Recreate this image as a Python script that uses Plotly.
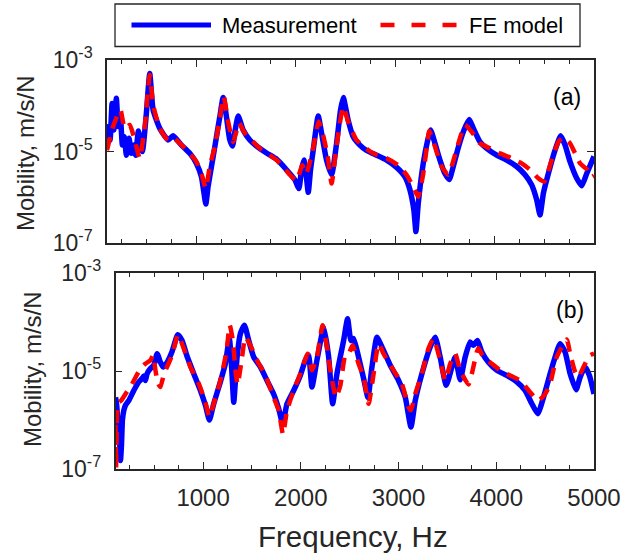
import plotly.graph_objects as go

# ---------------- data ----------------
# Panel (a): measurement
freq_a_meas = [100, 114, 131, 151, 168, 194, 214, 235,
               255, 275, 295, 322, 345, 372, 389, 416,
               456, 496, 530, 564, 631, 715, 765, 849,
               933, 1000, 1050, 1074, 1094, 1117, 1151, 1185,
               1235, 1269, 1302, 1336, 1363, 1390, 1420, 1470,
               1537, 1604, 1705, 1806, 1906, 1990, 2031, 2057,
               2081, 2104, 2125, 2148, 2175, 2225, 2259, 2309,
               2360, 2410, 2450, 2477, 2527, 2577, 2644, 2712,
               2762, 2812, 2913, 3014, 3098, 3148, 3188, 3208,
               3232, 3282, 3323, 3356, 3400, 3450, 3500, 3544,
               3584, 3635, 3692, 3745, 3786, 3853, 3920, 4021,
               4122, 4222, 4306, 4373, 4424, 4457, 4491, 4541,
               4608, 4665, 4709, 4759, 4826, 4877, 4927, 5000]
mob_a_meas = [2.3e-5, 3.5e-5, 1.78e-5, 1.12e-4, 2.95e-5, 1.45e-4, 3.5e-5, 5.3e-5,
              1.38e-5, 2.1e-5, 8.3e-6, 1.95e-5, 9.1e-6, 1.38e-5, 8.3e-6, 2.8e-5,
              1.0e-5, 6.8e-5, 5.1e-4, 8.1e-5, 3.2e-5, 1.78e-5, 2.2e-5, 1.38e-5,
              9.1e-6, 5.5e-6, 2.8e-6, 1.32e-6, 7.1e-7, 1.7e-6, 4.7e-6, 1.28e-5,
              5.75e-5, 1.52e-4, 5.75e-5, 1.78e-5, 1.32e-5, 2.95e-5, 6.0e-5, 2.95e-5,
              1.78e-5, 1.32e-5, 9.3e-6, 6.8e-6, 4.0e-6, 2.4e-6, 1.55e-6, 4.0e-6,
              6.5e-6, 3.1e-6, 1.28e-6, 4.0e-6, 1.07e-5, 6.0e-5, 2.5e-5, 6.5e-6,
              3.1e-6, 1.51e-5, 8.1e-5, 1.52e-4, 4.8e-5, 2.1e-5, 1.38e-5, 1.05e-5,
              9.3e-6, 8.3e-6, 6.5e-6, 4.5e-6, 2.8e-6, 1.45e-6, 5.2e-7, 1.78e-7,
              7.4e-7, 5.5e-6, 1.62e-5, 2.95e-5, 1.51e-5, 6.5e-6, 3.3e-6, 2.45e-6,
              4.7e-6, 1.23e-5, 2.95e-5, 5.0e-5, 3.2e-5, 1.62e-5, 1.17e-5, 8.3e-6,
              6.5e-6, 4.7e-6, 3.1e-6, 1.86e-6, 8.7e-7, 4.1e-7, 1.23e-6, 3.3e-6,
              1.07e-5, 2.2e-5, 1.38e-5, 6.0e-6, 2.6e-6, 1.78e-6, 3.3e-6, 7.8e-6]

# Panel (a): FE model
freq_a_fe = [100, 161, 235, 278, 329, 379, 429, 480,
             530, 564, 631, 715, 765, 849, 933, 1000,
             1050, 1094, 1134, 1185, 1235, 1275, 1319, 1369,
             1430, 1477, 1638, 1806, 1940, 2007, 2065, 2095,
             2120, 2175, 2230, 2270, 2320, 2360, 2410, 2477,
             2527, 2611, 2779, 2913, 3030, 3114, 3181, 3232,
             3282, 3323, 3343, 3400, 3467, 3534, 3601, 3651,
             3702, 3769, 3853, 3954, 4054, 4172, 4272, 4356,
             4440, 4497, 4575, 4642, 4692, 4759, 4810, 4860,
             4927, 4978, 5000]
mob_a_fe = [1.07e-5, 3.5e-5, 8.1e-5, 3.2e-5, 3.8e-5, 1.78e-5, 7.1e-6, 3.5e-5,
            4.7e-4, 1.05e-4, 3.2e-5, 1.78e-5, 2.0e-5, 1.4e-5, 9.0e-6, 6.0e-6,
            3.3e-6, 1.55e-6, 4.7e-6, 1.28e-5, 5.3e-5, 1.58e-4, 4.5e-5, 1.62e-5,
            4.2e-5, 2.7e-5, 1.17e-5, 6.5e-6, 3.1e-6, 2.3e-6, 5.0e-6, 3.2e-6,
            4.0e-6, 1.2e-5, 4.5e-5, 2.5e-5, 8.0e-6, 2.0e-6, 1.38e-5, 9.5e-5,
            4.5e-5, 1.78e-5, 9.1e-6, 7.1e-6, 5.0e-6, 3.1e-6, 1.7e-6, 1.02e-6,
            3.3e-6, 1.51e-5, 2.8e-5, 1.28e-5, 4.7e-6, 3.1e-6, 8.3e-6, 1.95e-5,
            3.8e-5, 2.7e-5, 1.51e-5, 1.17e-5, 9.1e-6, 7.1e-6, 5.5e-6, 4.0e-6,
            2.6e-6, 2.2e-6, 6.5e-6, 1.62e-5, 2.0e-5, 1.51e-5, 9.1e-6, 5.5e-6,
            4.1e-6, 2.8e-6, 3.0e-6]

# Panel (b): measurement
freq_b_meas = [104, 113, 121, 128, 138, 155, 165, 175,
               189, 206, 240, 291, 342, 376, 393, 410,
               427, 461, 496, 530, 564, 591, 632, 683,
               741, 785, 836, 905, 973, 1024, 1065, 1109,
               1177, 1228, 1269, 1296, 1314, 1348, 1382, 1423,
               1467, 1518, 1586, 1654, 1722, 1774, 1815, 1859,
               1927, 1995, 2046, 2080, 2114, 2165, 2217, 2234,
               2285, 2326, 2370, 2438, 2479, 2513, 2540, 2591,
               2643, 2687, 2728, 2779, 2830, 2915, 3000, 3069,
               3127, 3171, 3239, 3324, 3375, 3426, 3488, 3546,
               3580, 3631, 3682, 3733, 3767, 3808, 3852, 3920,
               4006, 4108, 4210, 4295, 4364, 4425, 4483, 4551,
               4602, 4653, 4704, 4756, 4817, 4858, 4909, 4953, 5000]
mob_b_meas = [2.9e-6, 2.3e-6, 1.5e-6, 6.0e-7, 1.0e-6, 1.49e-7, 3.0e-7, 1.0e-6,
              1.57e-6, 2.0e-6, 2.5e-6, 4.0e-6, 6.0e-6, 7.0e-6, 7.9e-6, 6.4e-6,
              8.8e-6, 1.12e-5, 1.31e-5, 2.25e-5, 1.5e-5, 1.2e-5, 1.5e-5, 2.5e-5,
              5.5e-5, 4.2e-5, 2.0e-5, 8.8e-6, 4.0e-6, 2.0e-6, 1.0e-6, 2.15e-6,
              6.0e-6, 1.41e-5, 4.6e-5, 8.8e-6, 2.3e-6, 1.93e-5, 5.8e-5, 8.6e-5,
              4.2e-5, 1.93e-5, 1.21e-5, 6.4e-6, 3.4e-6, 1.7e-6, 8.4e-7, 2.15e-6,
              4.0e-6, 8.1e-6, 1.65e-5, 2.1e-5, 4.7e-6, 1.65e-5, 5.8e-5, 7.9e-5,
              1.93e-5, 2.15e-6, 8.8e-6, 4.2e-5, 1.17e-4, 4.2e-5, 4.6e-5, 1.93e-5,
              7.0e-6, 2.9e-6, 1.21e-5, 4.9e-5, 3.1e-5, 1.31e-5, 6.4e-6, 2.9e-6,
              7.2e-7, 2.5e-6, 8.8e-6, 3.1e-5, 4.9e-5, 1.93e-5, 5.1e-6, 1.21e-5,
              1.93e-5, 6.6e-6, 1.93e-5, 3.9e-5, 3.35e-5, 4.2e-5, 2.45e-5, 1.5e-5,
              1.03e-5, 8.1e-6, 6.0e-6, 4.0e-6, 2.15e-6, 1.34e-6, 2.9e-6, 8.8e-6,
              1.93e-5, 3.6e-5, 2.45e-5, 8.8e-6, 4.15e-6, 7.5e-6, 1.21e-5, 8.1e-6, 3.4e-6]

# Panel (b): FE model
freq_b_fe = [104, 110, 116, 125, 138, 162, 206, 274,
             359, 410, 461, 489, 513, 540, 564, 600,
             632, 683, 744, 802, 870, 956, 1024, 1065,
             1109, 1177, 1239, 1273, 1307, 1331, 1354, 1399,
             1433, 1484, 1552, 1637, 1722, 1774, 1818, 1859,
             1927, 1995, 2070, 2114, 2165, 2223, 2268, 2302,
             2360, 2404, 2455, 2489, 2530, 2591, 2643, 2694,
             2745, 2796, 2847, 2949, 3034, 3103, 3127, 3171,
             3239, 3307, 3358, 3426, 3478, 3529, 3580, 3631,
             3716, 3750, 3801, 3818, 3869, 3955, 4040, 4142,
             4244, 4347, 4432, 4500, 4551, 4619, 4721, 4756,
             4807, 4841, 4892, 4960, 5000]
mob_b_fe = [8.0e-7, 1.05e-7, 6.0e-7, 2.0e-6, 2.3e-6, 2.5e-6, 3.4e-6, 5.5e-6,
            1.12e-5, 1.41e-5, 1.65e-5, 2.1e-5, 1.03e-5, 5.5e-6, 4.7e-6, 8.8e-6,
            1.21e-5, 2.1e-5, 5.5e-5, 2.9e-5, 1.21e-5, 5.5e-6, 2.3e-6, 1.15e-6,
            2.15e-6, 6.4e-6, 2.45e-5, 8.6e-5, 3.9e-5, 1.03e-5, 5.3e-6, 1.93e-5,
            4.9e-5, 3.35e-5, 1.65e-5, 8.1e-6, 2.9e-6, 1.57e-6, 5.1e-7, 1.57e-6,
            4.0e-6, 8.8e-6, 2.25e-5, 1.03e-5, 1.93e-5, 8.6e-5, 3.1e-5, 1.03e-5,
            2.9e-6, 5.0e-6, 2.1e-5, 2.25e-5, 3.35e-5, 1.41e-5, 7.5e-6, 2.15e-6,
            8.8e-6, 3.6e-5, 2.25e-5, 1.03e-5, 5.5e-6, 1.84e-6, 1.57e-6, 3.4e-6,
            8.8e-6, 2.9e-5, 4.6e-5, 1.65e-5, 6.4e-6, 1.41e-5, 2.25e-5, 1.03e-5,
            5.3e-6, 8.8e-6, 2.45e-5, 2.9e-5, 1.93e-5, 1.41e-5, 1.03e-5, 8.1e-6,
            6.4e-6, 3.7e-6, 2.5e-6, 3.4e-6, 5.5e-6, 1.93e-5, 4.4e-5, 2.25e-5,
            9.5e-6, 7.5e-6, 1.21e-5, 2.1e-5, 2.25e-5]

y_tickvals = [1e-7, 1e-5, 1e-3]
y_ticktext = ["10<sup>-7</sup>", "10<sup>-5</sup>", "10<sup>-3</sup>"]
series_names = ["Measurement", "FE model"]
panel_labels = ["(a)", "(b)"]

# ---------------- styling ----------------
W, H = 623, 556
BLUE = "rgb(0,0,255)"
RED = "rgb(255,0,0)"
AX = "#262626"
FONT = "Liberation Sans"
SMOOTH = 0.5

def px_x(p):
    return p / W

def px_y(p):
    return 1 - p / H

fig = go.Figure()

fig.add_trace(go.Scatter(x=freq_a_meas, y=mob_a_meas, mode="lines", name=series_names[0],
                         line=dict(color=BLUE, width=5.5, shape="spline", smoothing=SMOOTH),
                         xaxis="x", yaxis="y", showlegend=False))
fig.add_trace(go.Scatter(x=freq_a_fe, y=mob_a_fe, mode="lines", name=series_names[1],
                         line=dict(color=RED, width=4.5, dash="13px,9px", shape="spline",
                                   smoothing=SMOOTH),
                         xaxis="x", yaxis="y", showlegend=False))
fig.add_trace(go.Scatter(x=freq_b_meas, y=mob_b_meas, mode="lines", name=series_names[0],
                         line=dict(color=BLUE, width=5.5, shape="spline", smoothing=SMOOTH),
                         xaxis="x2", yaxis="y2", showlegend=False))
fig.add_trace(go.Scatter(x=freq_b_fe, y=mob_b_fe, mode="lines", name=series_names[1],
                         line=dict(color=RED, width=4.5, dash="13px,9px", shape="spline",
                                   smoothing=SMOOTH),
                         xaxis="x2", yaxis="y2", showlegend=False))

def xaxis_cfg(domain, rng, anchor, labels):
    return dict(domain=domain, range=rng, anchor=anchor, automargin=False,
                tickmode="linear", tick0=0, dtick=1000,
                ticks="inside", ticklen=7, tickwidth=1.3, tickcolor=AX,
                showticklabels=labels, ticklabelstandoff=6,
                tickfont=dict(family=FONT, size=24, color=AX),
                showline=True, linecolor=AX, linewidth=1.5, mirror="ticks",
                showgrid=False, zeroline=False,
                minor=dict(tick0=0, dtick=250, ticks="inside", ticklen=4,
                           tickwidth=1.3, tickcolor=AX, showgrid=False))

def yaxis_cfg(domain, anchor):
    return dict(domain=domain, anchor=anchor, type="log", range=[-7, -3], automargin=False,
                tickmode="array", tickvals=y_tickvals, ticktext=y_ticktext,
                ticks="inside", ticklen=7, tickwidth=1.3, tickcolor=AX,
                ticklabelstandoff=8,
                tickfont=dict(family=FONT, size=23, color=AX),
                showline=True, linecolor=AX, linewidth=1.5, mirror="ticks",
                showgrid=False, zeroline=False)

fig.update_layout(
    width=W, height=H, autosize=False,
    margin=dict(l=0, r=0, t=0, b=0, pad=0, autoexpand=False),
    paper_bgcolor="white", plot_bgcolor="white",
    showlegend=False,
    xaxis=xaxis_cfg([px_x(107), px_x(594)], [100, 5000], "y", False),
    yaxis=yaxis_cfg([px_y(243), px_y(60)], "x"),
    xaxis2=xaxis_cfg([px_x(115.5), px_x(594)], [104, 5000], "y2", True),
    yaxis2=yaxis_cfg([px_y(469), px_y(273)], "x2"),
)

annots = [
    dict(text="Mobility, m/s/N", x=px_x(25), y=px_y(153), textangle=-90),
    dict(text="Mobility, m/s/N", x=px_x(32), y=px_y(369), textangle=-90),
    dict(text="Frequency, Hz", x=px_x(353), y=px_y(536), size=29.5),
    dict(text=panel_labels[0], x=px_x(567), y=px_y(97), size=23, color="black"),
    dict(text=panel_labels[1], x=px_x(570), y=px_y(310), size=23, color="black"),
]
for a in annots:
    fig.add_annotation(text=a["text"], x=a["x"], y=a["y"], xref="paper", yref="paper",
                       showarrow=False, xanchor="center", yanchor="middle",
                       textangle=a.get("textangle", 0),
                       font=dict(family=FONT, size=a.get("size", 24), color=a.get("color", AX)))

# legend box drawn by hand (wide line samples as in the reference)
fig.add_shape(type="rect", xref="paper", yref="paper",
              x0=px_x(115), x1=px_x(580), y0=px_y(46.5), y1=px_y(4),
              line=dict(color=AX, width=1.3), fillcolor="white")
fig.add_shape(type="line", xref="paper", yref="paper",
              x0=px_x(131.5), x1=px_x(211), y0=px_y(25), y1=px_y(25),
              line=dict(color=BLUE, width=5))
fig.add_shape(type="line", xref="paper", yref="paper",
              x0=px_x(380.5), x1=px_x(459), y0=px_y(25), y1=px_y(25),
              line=dict(color=RED, width=4.5, dash="14px,17px"))
fig.add_annotation(text=series_names[0], x=px_x(220), y=px_y(25.5), xref="paper", yref="paper",
                   showarrow=False, xanchor="left", yanchor="middle",
                   font=dict(family=FONT, size=22, color="black"))
fig.add_annotation(text=series_names[1], x=px_x(466.5), y=px_y(25.5), xref="paper", yref="paper",
                   showarrow=False, xanchor="left", yanchor="middle",
                   font=dict(family=FONT, size=22, color="black"))

fig.write_html("out.html", config={"displayModeBar": False},
               post_script="document.body.style.margin='0';")
